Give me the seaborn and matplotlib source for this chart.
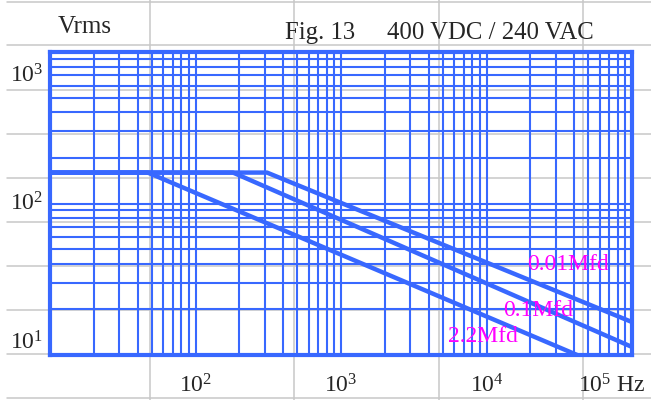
import matplotlib
matplotlib.use("Agg")
import matplotlib.pyplot as plt
import matplotlib.transforms as mtrans
from matplotlib.ticker import LogLocator, NullFormatter
import seaborn as sns
import pandas as pd

# curves: flat part, knee, end point
freq_2_2 = [10, 47, 42000]
volt_2_2 = [160, 160, 10]
freq_0_1 = [10, 181, 100000]
volt_0_1 = [160, 160, 11.3]
freq_0_01 = [10, 310, 100000]
volt_0_01 = [160, 160, 16.5]

cap_names = ["2.2Mfd", "0.1Mfd", "0.01Mfd"]
label_freq = [5430, 12970, 18970]
label_volt = [13.2, 19.8, 39.3]

x_ticks = [100, 1000, 10000, 100000]
x_ticklabels = [r"$\mathregular{10^2}$", r"$\mathregular{10^3}$",
                r"$\mathregular{10^4}$", r"$\mathregular{10^5}$ Hz"]
y_ticks = [10, 100, 1000]
y_ticklabels = [r"$\mathregular{10^1}$", r"$\mathregular{10^2}$", r"$\mathregular{10^3}$"]

df = pd.concat([
    pd.DataFrame({"freq": freq_2_2, "volt": volt_2_2, "cap": cap_names[0]}),
    pd.DataFrame({"freq": freq_0_1, "volt": volt_0_1, "cap": cap_names[1]}),
    pd.DataFrame({"freq": freq_0_01, "volt": volt_0_01, "cap": cap_names[2]}),
])

sns.set_theme(style="white")
plt.rcParams["font.family"] = ["Liberation Serif", "DejaVu Serif"]
plt.rcParams["mathtext.fontset"] = "custom"
plt.rcParams["mathtext.rm"] = "Liberation Serif"

blue = "#3868ff"
grey = "#c8c8c8"

W, H = 651, 400
fig = plt.figure(figsize=(W / 100, H / 100), dpi=100)

# spreadsheet-like cell grid behind everything
bg = fig.add_axes([0, 0, 1, 1], zorder=-5)
bg.set_xlim(0, W)
bg.set_ylim(H, 0)
bg.axis("off")
for yy in [2, 45, 90, 134, 178, 222, 266, 310, 354, 398]:
    bg.plot([7, W], [yy, yy], color=grey, lw=1.1)
for xx in [150, 294, 439, 583]:
    bg.plot([xx, xx], [0, H], color=grey, lw=1.1)

ax = fig.add_axes([50 / W, 45 / H, 582 / W, 303 / H])
ax.set_facecolor("none")
ax.set_xscale("log")
ax.set_yscale("log")

sns.lineplot(data=df, x="freq", y="volt", units="cap", estimator=None,
             sort=False, color=blue, lw=3.2, ax=ax)

ax.set_xlim(10, 1e5)
ax.set_ylim(10, 1000)

ax.xaxis.set_minor_locator(LogLocator(base=10, subs=range(2, 10)))
ax.yaxis.set_minor_locator(LogLocator(base=10, subs=range(2, 10)))
ax.xaxis.set_minor_formatter(NullFormatter())
ax.yaxis.set_minor_formatter(NullFormatter())
ax.grid(which="both", color=blue, lw=1.5)
ax.set_axisbelow(True)

ax.set_xticks(x_ticks)
ax.set_xticklabels(x_ticklabels, fontsize=17)
ax.set_yticks(y_ticks)
ax.set_yticklabels(y_ticklabels, fontsize=17)
ax.tick_params(which="both", length=0)
ax.tick_params(axis="x", pad=14)
ax.tick_params(axis="y", pad=5)

for lbl, va in zip(ax.get_yticklabels(), ["bottom", "center", "top"]):
    lbl.set_va(va)
top = ax.get_yticklabels()[-1]
top.set_transform(top.get_transform() + mtrans.ScaledTranslation(0, -12 / 100, fig.dpi_scale_trans))
last = ax.get_xticklabels()[-1]
last.set_transform(last.get_transform() + mtrans.ScaledTranslation(-20 / 100, 0, fig.dpi_scale_trans))

for sp in ax.spines.values():
    sp.set_visible(True)
    sp.set_color(blue)
    sp.set_linewidth(3)

ax.set_xlabel("")
ax.set_ylabel("")

for name, fx, vy in zip(cap_names, label_freq, label_volt):
    ax.text(fx, vy, name, color="#ff00ff", fontsize=17, ha="left", va="center")

fig.text(58 / W, 1 - 27 / H, "Vrms", fontsize=18, ha="left", va="center")
fig.text(285 / W, 1 - 33 / H, "Fig. 13", fontsize=17.8, ha="left", va="center")
fig.text(387 / W, 1 - 33 / H, "400 VDC / 240 VAC", fontsize=17.8, ha="left", va="center")

fig.savefig("out.png", dpi=100)
